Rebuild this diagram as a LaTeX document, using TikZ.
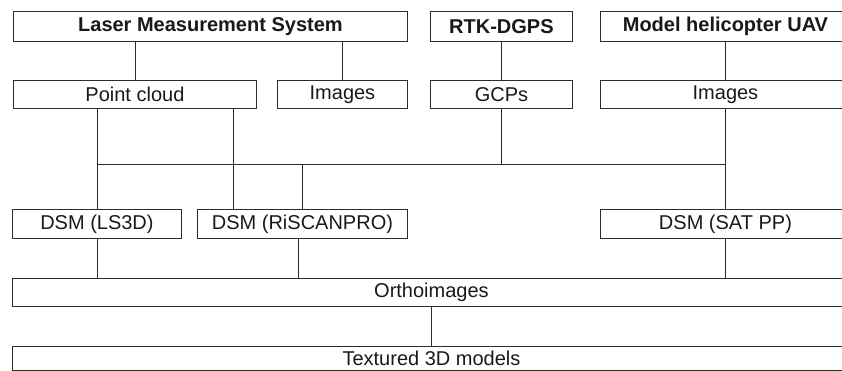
\documentclass[tikz,border=0pt]{standalone}
\usepackage{fontspec}
\setmainfont{Liberation Sans}
\usepackage{tikz}
\usetikzlibrary{positioning, calc}
\definecolor{inkgray}{HTML}{2B2B2B}
\tikzset{
  % Boxes
  box/.style={
    rectangle, draw=inkgray, line width=0.9pt, inner sep=0pt,
    anchor=north west, minimum height=#1, text=black!90,
    font=\fontsize{20}{24}\selectfont
  },
  box/.default=28pt,
  sourcebox/.style={box=30pt, font=\fontsize{20}{24}\selectfont\bfseries},
  % Connectors
  link/.style={draw=inkgray, line width=0.9pt},
}
\begin{document}
\begin{tikzpicture}[x=1pt, y=-1pt]
  \useasboundingbox (0,0) rectangle (842,371);
  \clip (0,0) rectangle (842,371);

  % Sources
  \node[sourcebox, minimum width=394pt] (lms) at (13,11) {Laser Measurement System};
  \node[sourcebox, minimum width=142pt] (rtk) at (430,11) {RTK-DGPS};
  \node[sourcebox, minimum width=250pt] (uav) at (600,11) {Model helicopter UAV};

  % Raw data
  \node[box, minimum width=243pt] (pc) at (13,80) {Point cloud};
  \node[box, minimum width=130pt] (imglms) at (277,80) {Images};
  \node[box, minimum width=142pt] (gcp) at (430,80) {GCPs};
  \node[box, minimum width=250pt] (imguav) at (600,80) {Images};

  % Surface models
  \node[box, minimum width=169pt, minimum height=29pt] (ls3d) at (12,209) {DSM (LS3D)};
  \node[box, minimum width=210pt, minimum height=29pt] (riscan) at (197,209) {DSM (RiSCANPRO)};
  \node[box, minimum width=250pt, minimum height=29pt] (satpp) at (600,209) {DSM (SAT PP)};

  % Products
  \node[box, minimum width=838pt] (ortho) at (12,278) {Orthoimages};
  \node[box, minimum width=838pt, minimum height=24pt] (textured) at (12,346) {Textured 3D models};

  % GCP bus
  \coordinate (busL) at (97,164);
  \coordinate (busR) at (725,164);
  \draw[link] (busL) -- (busR);

  % Arrows
  \draw[link] (lms.south -| pc.north) -- (pc.north);
  \draw[link] (lms.south -| imglms.north) -- (imglms.north);
  \draw[link] (rtk.south) -- (gcp.north);
  \draw[link] (uav.south) -- (imguav.north);
  \draw[link] (pc.south -| ls3d.north) -- (ls3d.north);
  \draw[link] ([xshift=98pt]pc.south) -- ([xshift=98pt]pc.south |- riscan.north);
  \draw[link] (gcp.south) -- (gcp.south |- busL);
  \draw[link] (riscan.north |- busL) -- (riscan.north);
  \draw[link] (imguav.south) -- (satpp.north);
  \draw[link] (ls3d.south) -- (ls3d.south |- ortho.north);
  \draw[link] ([xshift=-4pt]riscan.south) -- ([xshift=-4pt]riscan.south |- ortho.north);
  \draw[link] (satpp.south) -- (satpp.south |- ortho.north);
  \draw[link] (ortho.south) -- (textured.north);

\end{tikzpicture}
\end{document}
